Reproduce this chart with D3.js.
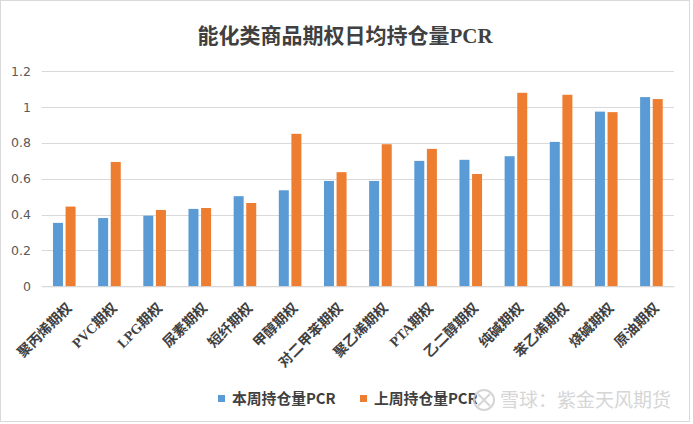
<!DOCTYPE html>
<html><head><meta charset="utf-8">
<script src="https://cdn.jsdelivr.net/npm/d3@7"></script>
<style>body{margin:0;background:#fff}svg{display:block}</style>
</head><body>
<script>
const categories = ["聚丙烯期权","PVC期权","LPG期权","尿素期权","短纤期权","甲醇期权","对二甲苯期权","聚乙烯期权","PTA期权","乙二醇期权","纯碱期权","苯乙烯期权","烧碱期权","原油期权"];
const thisWeek = [0.354,0.381,0.394,0.432,0.503,0.536,0.588,0.588,0.700,0.706,0.726,0.806,0.975,1.056];
const lastWeek = [0.445,0.694,0.426,0.437,0.465,0.851,0.637,0.793,0.767,0.627,1.080,1.069,0.972,1.045];
const seriesNames = ["本周持仓量PCR","上周持仓量PCR"];
const yTicks = [0,0.2,0.4,0.6,0.8,1,1.2];
const title = "能化类商品期权日均持仓量PCR";
const watermark = "雪球：紫金天风期货";

const W=693,H=424;
const colors=["#5b9bd5","#ed7d31"];
const serifCJK="'Liberation Serif', 'Noto Sans CJK SC', serif";
const svg=d3.select("body").append("svg").attr("width",W).attr("height",H);
svg.append("rect").attr("x",0.5).attr("y",0.5).attr("width",689).attr("height",421)
  .attr("fill","#fff").attr("stroke","#d9d9d9");

const m={l:41.7,r:674,t:71.3,b:286.3};
const x=d3.scaleBand().domain(categories).range([m.l,m.r]).paddingInner(0).paddingOuter(0);
const y=d3.scaleLinear().domain([0,1.2]).range([m.b,m.t]);

// gridlines
svg.append("g").selectAll("line").data(yTicks).join("line")
  .attr("x1",m.l).attr("x2",m.r).attr("y1",d=>Math.round(y(d))+0.5).attr("y2",d=>Math.round(y(d))+0.5)
  .attr("stroke","#d9d9d9").attr("stroke-width",1);

// y axis labels
const yAxis=d3.axisLeft(y).tickValues(yTicks).tickSize(0).tickPadding(0).tickFormat(d=>String(d));
const ya=svg.append("g").attr("transform",`translate(${31},0)`).call(yAxis);
ya.select(".domain").remove();
ya.selectAll("text").attr("font-family","Verdana, 'DejaVu Sans', sans-serif").attr("font-size",12.5).attr("fill","#595959");

// bars
const bw=10, gap=2.6;
const data=categories.map((c,i)=>({c,v:[thisWeek[i],lastWeek[i]]}));
const g=svg.append("g");
data.forEach(d=>{
  const cx=x(d.c)+x.bandwidth()/2;
  d.v.forEach((v,k)=>{
    const x0 = k===0 ? cx-gap/2-bw : cx+gap/2;
    g.append("rect").attr("x",x0).attr("y",y(v)).attr("width",bw).attr("height",y(0)-y(v)).attr("fill",colors[k]);
  });
});

// x axis labels
const xAxis=d3.axisBottom(x).tickSize(0).tickPadding(0);
const xa=svg.append("g").attr("transform",`translate(0,${m.b})`).call(xAxis);
xa.select(".domain").attr("stroke","#d9d9d9");
xa.selectAll("text")
  .attr("text-anchor","end")
  .attr("transform","translate(5,19) rotate(-45)")
  .attr("dy","0.35em")
  .attr("font-family",serifCJK).attr("font-weight","bold")
  .attr("font-size",14).attr("fill","#404040");

// title
svg.append("text").attr("x",345).attr("y",43).attr("text-anchor","middle")
  .attr("font-family",serifCJK).attr("font-weight","bold")
  .attr("font-size",21).attr("fill","#404040").text(title);

// legend
const leg=[{x:218},{x:360}];
seriesNames.forEach((n,k)=>{
  svg.append("rect").attr("x",leg[k].x).attr("y",395).attr("width",7).attr("height",7).attr("fill",colors[k]);
  svg.append("text").attr("x",leg[k].x+14).attr("y",404)
    .attr("font-family","'Noto Sans CJK SC', sans-serif").attr("font-weight","bold")
    .attr("font-size",14.8).attr("fill","#404040").text(n);
});

// watermark
const wm=svg.append("g").attr("opacity",0.85);
wm.append("circle").attr("cx",484).attr("cy",400).attr("r",10).attr("fill","none").attr("stroke","#cfcfcf").attr("stroke-width",2);
wm.append("path").attr("d","M478,394 L490,406 M490,394 L478,406").attr("stroke","#cfcfcf").attr("stroke-width",2);
wm.append("text").attr("x",500).attr("y",407).attr("font-family","'Noto Sans CJK SC', sans-serif")
  .attr("font-size",19).attr("fill","#cfcfcf").text(watermark);
</script>
</body></html>
